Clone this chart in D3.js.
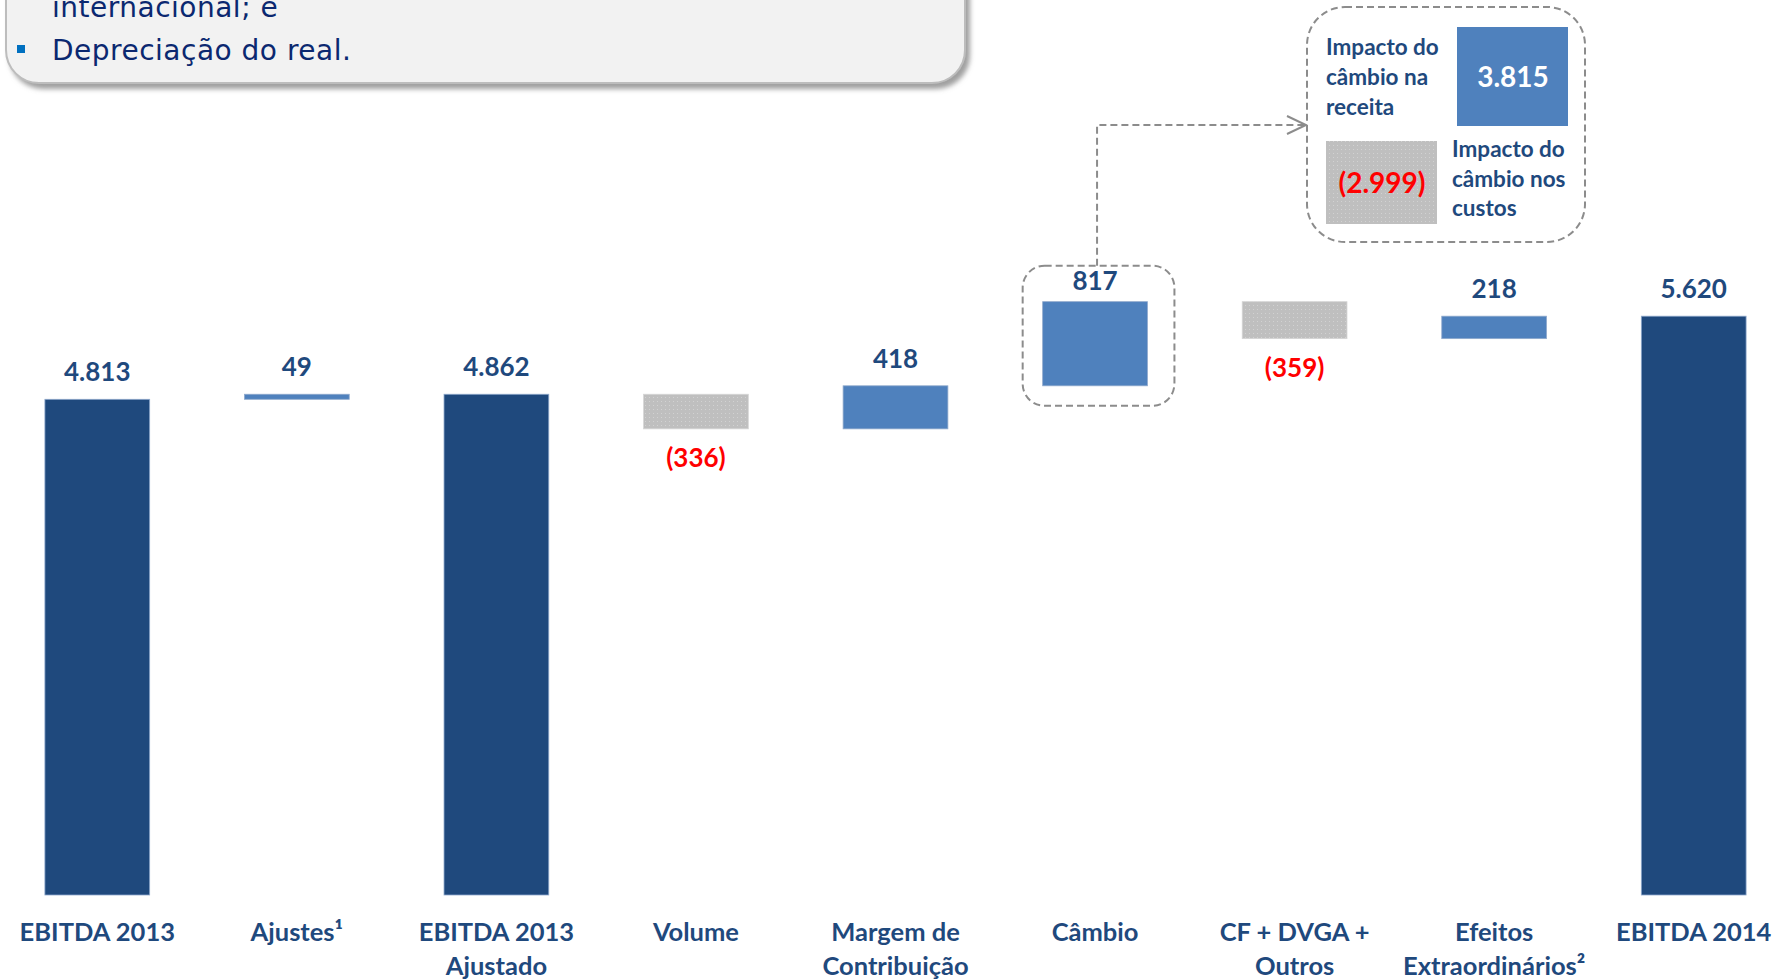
<!DOCTYPE html>
<html>
<head>
<meta charset="utf-8">
<script src="https://cdn.jsdelivr.net/npm/d3@7"></script>
<style>
  html, body { margin: 0; padding: 0; background: #ffffff; }
  svg { display: block; }
</style>
</head>
<body>
<svg id="chart" width="1783" height="980"></svg>
<script>
// ---------- data ----------
const categories = ["EBITDA 2013", "Ajustes¹", "EBITDA 2013 Ajustado", "Volume", "Margem de Contribuição", "Câmbio", "CF + DVGA + Outros", "Efeitos Extraordinários²", "EBITDA 2014"];
const categoryLines = [["EBITDA 2013"], ["Ajustes¹"], ["EBITDA 2013", "Ajustado"], ["Volume"], ["Margem de", "Contribuição"], ["Câmbio"], ["CF + DVGA +", "Outros"], ["Efeitos", "Extraordinários²"], ["EBITDA 2014"]];
const values = [4813, 49, 4862, -336, 418, 817, -359, 218, 5620];
const kinds = ["total", "delta", "total", "delta", "delta", "delta", "delta", "delta", "total"];
const valueLabels = ["4.813", "49", "4.862", "(336)", "418", "817", "(359)", "218", "5.620"];
const highlighted = "Câmbio";

const fxRevenueValue = "3.815";
const fxCostValue = "(2.999)";
const fxRevenueText = ["Impacto do", "câmbio na", "receita"];
const fxCostText = ["Impacto do", "câmbio nos", "custos"];

const boxLines = ["internacional; e", "Depreciação do real."];

// ---------- styles ----------
const C_TOTAL = "#1F497D";
const C_UP = "#4F81BD";
const C_DOWN = "#BFBFBF";
const C_TEXT = "#1F497D";
const C_RED = "#FF0000";
const FONT = "Lato, 'Open Sans', sans-serif";

const svg = d3.select("#chart");
const defs = svg.append("defs");

// dotted gray pattern
const pat = defs.append("pattern").attr("id", "dots").attr("width", 4).attr("height", 4).attr("patternUnits", "userSpaceOnUse");
pat.append("rect").attr("width", 4).attr("height", 4).attr("fill", C_DOWN);
pat.append("rect").attr("x", 1).attr("y", 1).attr("width", 1).attr("height", 1).attr("fill", "#d2d2d2");

// shadow
const f = defs.append("filter").attr("id", "shadow").attr("x", "-5%").attr("y", "-20%").attr("width", "115%").attr("height", "160%");
f.append("feDropShadow").attr("dx", 4).attr("dy", 5).attr("stdDeviation", 2.5).attr("flood-color", "#808080").attr("flood-opacity", 0.75);

// ---------- scales ----------
const x = d3.scaleBand().domain(categories).range([5, 1786]).paddingInner(0.475).paddingOuter(0.2);
const y = d3.scaleLinear().domain([0, 8690]).range([895, 0]);

// waterfall geometry
let running = 0;
const bars = categories.map((c, i) => {
  let lo, hi;
  if (kinds[i] === "total") { lo = 0; hi = values[i]; running = values[i]; }
  else { const s = running; running += values[i]; lo = Math.min(s, running); hi = Math.max(s, running); }
  const fill = kinds[i] === "total" ? C_TOTAL : (values[i] >= 0 ? C_UP : "url(#dots)");
  return { c, i, lo, hi, v: values[i], fill, label: valueLabels[i], kind: kinds[i] };
});

// ---------- top-left text box ----------
const tb = svg.append("g");
tb.append("rect").attr("x", 6).attr("y", -60).attr("width", 959).attr("height", 143).attr("rx", 33).attr("ry", 33)
  .attr("fill", "#F2F2F2").attr("stroke", "#BDBDBD").attr("stroke-width", 2).attr("filter", "url(#shadow)");
tb.append("rect").attr("x", 17).attr("y", 45).attr("width", 8).attr("height", 8).attr("fill", "#0070C0");
tb.selectAll("text.box").data(boxLines).join("text").attr("class", "box")
  .attr("x", 52).attr("y", (d, i) => 17 + i * 43)
  .attr("font-family", "'DejaVu Sans', sans-serif").attr("font-size", 28).attr("letter-spacing", 0.5).attr("fill", "#0B2870")
  .text(d => d);

// ---------- bars ----------
svg.append("g").selectAll("rect").data(bars).join("rect")
  .attr("x", d => x(d.c)).attr("width", x.bandwidth())
  .attr("y", d => y(d.hi)).attr("height", d => Math.max(1, y(d.lo) - y(d.hi)))
  .attr("fill", d => d.fill)
  .attr("stroke", d => d.v < 0 && d.kind === "delta" ? "#d6d6d6" : "#8fa9cc").attr("stroke-width", 0.8);

// value labels
svg.append("g").selectAll("text").data(bars).join("text")
  .attr("x", d => x(d.c) + x.bandwidth() / 2)
  .attr("y", d => (d.v < 0 && d.kind === "delta") ? y(d.lo) + 38 : y(d.hi) - (d.c === highlighted ? 12 : 18))
  .attr("text-anchor", "middle")
  .attr("font-family", FONT).attr("font-weight", "bold").attr("font-size", 26)
  .attr("fill", d => (d.v < 0 && d.kind === "delta") ? C_RED : C_TEXT)
  .text(d => d.label);

// ---------- x axis ----------
const axis = d3.axisBottom(x).tickSize(0).tickPadding(0);
const ax = svg.append("g").attr("transform", `translate(0,${y(0)})`).call(axis);
ax.select(".domain").remove();
ax.selectAll(".tick text").each(function(d, i) {
  const t = d3.select(this);
  t.text(null).attr("dy", null).attr("y", null)
    .attr("font-family", FONT).attr("font-weight", "bold").attr("font-size", 25.5).attr("fill", C_TEXT);
  categoryLines[i].forEach((ln, j) => {
    t.append("tspan").attr("x", 0).attr("y", 46 + j * 34).text(ln);
  });
});

// ---------- Câmbio highlight & callout ----------
const cb = bars[categories.indexOf(highlighted)];
const bx0 = x(cb.c) - 20, bx1 = x(cb.c) + x.bandwidth() + 27;
const by0 = y(cb.hi) - 36, by1 = y(cb.lo) + 20;
const dash = "7,4";
svg.append("rect").attr("x", bx0).attr("y", by0).attr("width", bx1 - bx0).attr("height", by1 - by0)
  .attr("rx", 22).attr("ry", 22).attr("fill", "none").attr("stroke", "#8c8c8c").attr("stroke-width", 2).attr("stroke-dasharray", dash);

const cx = x(cb.c) + x.bandwidth() / 2 + 2;
const callX0 = 1307, callY0 = 7, callX1 = 1585, callY1 = 242;
const arrowY = 125;
svg.append("path").attr("d", `M${cx},${by0} V${arrowY} H${callX0 - 1}`)
  .attr("fill", "none").attr("stroke", "#8c8c8c").attr("stroke-width", 2).attr("stroke-dasharray", dash);
svg.append("path").attr("d", `M${callX0 - 20},${arrowY - 9} L${callX0 - 1},${arrowY} L${callX0 - 20},${arrowY + 9}`)
  .attr("fill", "none").attr("stroke", "#8c8c8c").attr("stroke-width", 2);

svg.append("rect").attr("x", callX0).attr("y", callY0).attr("width", callX1 - callX0).attr("height", callY1 - callY0)
  .attr("rx", 38).attr("ry", 38).attr("fill", "#ffffff").attr("stroke", "#8c8c8c").attr("stroke-width", 2).attr("stroke-dasharray", dash);

// revenue block
svg.append("rect").attr("x", 1457).attr("y", 27).attr("width", 111).attr("height", 99).attr("fill", C_UP);
svg.append("text").attr("x", 1513).attr("y", 87).attr("text-anchor", "middle")
  .attr("font-family", FONT).attr("font-weight", "bold").attr("font-size", 28).attr("fill", "#ffffff").text(fxRevenueValue);
svg.append("g").selectAll("text").data(fxRevenueText).join("text")
  .attr("x", 1326).attr("y", (d, i) => 55 + i * 30)
  .attr("font-family", FONT).attr("font-weight", "bold").attr("font-size", 22.5).attr("fill", C_TEXT).text(d => d);

// cost block
svg.append("rect").attr("x", 1326).attr("y", 141).attr("width", 111).attr("height", 83).attr("fill", "url(#dots)");
svg.append("text").attr("x", 1382).attr("y", 193).attr("text-anchor", "middle")
  .attr("font-family", FONT).attr("font-weight", "bold").attr("font-size", 28).attr("fill", C_RED).text(fxCostValue);
svg.append("g").selectAll("text").data(fxCostText).join("text")
  .attr("x", 1452).attr("y", (d, i) => 157 + i * 29.5)
  .attr("font-family", FONT).attr("font-weight", "bold").attr("font-size", 22.5).attr("fill", C_TEXT).text(d => d);
</script>
</body>
</html>
